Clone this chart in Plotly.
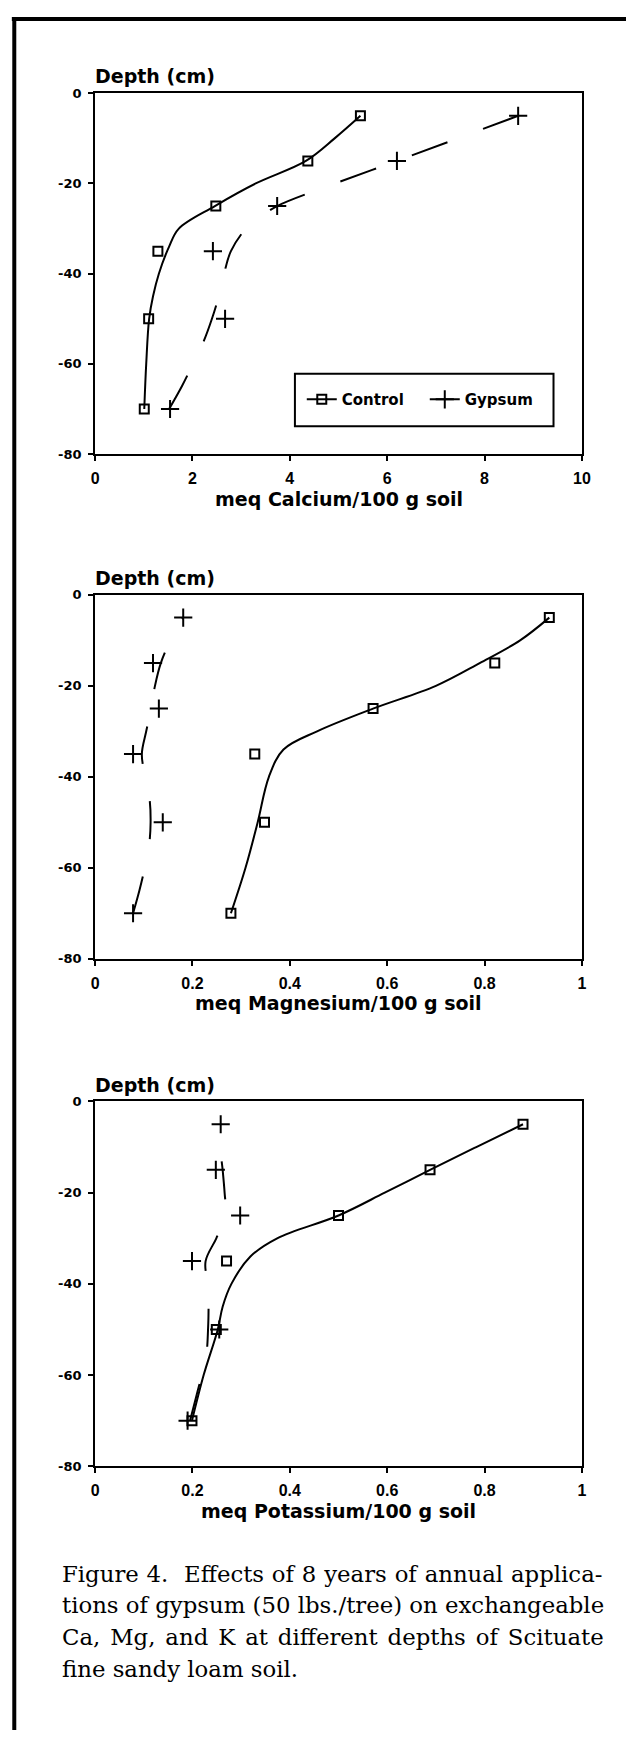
import plotly.graph_objects as go

W, H = 635, 1738

# ---- measured data: exchangeable cations by depth ----
depth = [-5, -15, -25, -35, -50, -70]

ca_control = [5.45, 4.37, 2.48, 1.29, 1.10, 1.01]
ca_gypsum = [8.69, 6.20, 3.74, 2.42, 2.67, 1.54]
mg_control = [0.933, 0.821, 0.571, 0.328, 0.348, 0.279]
mg_gypsum = [0.181, 0.119, 0.131, 0.078, 0.139, 0.078]
k_control = [0.879, 0.688, 0.500, 0.270, 0.249, 0.199]
k_gypsum = [0.258, 0.248, 0.298, 0.199, 0.255, 0.190]

# ---- smoothed depth profiles (deepest point first) ----
ca_control_fit_depth = [-70, -60, -50, -45, -40, -34, -30, -25, -20, -15, -10, -5]
ca_control_fit = [1.01, 1.05, 1.11, 1.19, 1.31, 1.52, 1.72, 2.46, 3.30, 4.33, 4.92, 5.45]
ca_gypsum_fit_depth = [-70, -65, -60, -55, -50, -45, -40, -35, -30, -27, -25, -20, -15, -10, -5]
ca_gypsum_fit = [1.52, 1.78, 2.01, 2.23, 2.40, 2.54, 2.65, 2.79, 3.10, 3.45, 3.74, 4.93, 6.20, 7.45, 8.69]

mg_control_fit_depth = [-70, -60, -50, -40, -34, -30, -25, -20, -15, -10, -5]
mg_control_fit = [0.279, 0.309, 0.334, 0.357, 0.387, 0.456, 0.571, 0.700, 0.790, 0.873, 0.933]
mg_gypsum_fit_depth = [-70, -65, -60, -55, -50, -45, -40, -35, -30, -25, -20, -15, -10, -5]
mg_gypsum_fit = [0.078, 0.091, 0.102, 0.111, 0.114, 0.112, 0.103, 0.096, 0.105, 0.115, 0.123, 0.135, 0.155, 0.181]

k_control_fit_depth = [-70, -60, -50, -45, -40, -34, -30, -25, -20, -15, -10, -5]
k_control_fit = [0.199, 0.223, 0.252, 0.262, 0.280, 0.319, 0.374, 0.500, 0.595, 0.688, 0.783, 0.879]
k_gypsum_fit_depth = [-70, -65, -60, -55, -50, -45, -40, -35, -30, -25, -20, -15, -10, -5]
k_gypsum_fit = [0.195, 0.207, 0.219, 0.229, 0.232, 0.233, 0.231, 0.227, 0.249, 0.268, 0.266, 0.262, 0.257, 0.258]

# ---- axis labels ----
ca_ticks = [0, 2, 4, 6, 8, 10]
ca_ticktext = ["0", "2", "4", "6", "8", "10"]
frac_ticks = [0, 0.2, 0.4, 0.6, 0.8, 1]
frac_ticktext = ["0", "0.2", "0.4", "0.6", "0.8", "1"]
depth_ticks = [0, -20, -40, -60, -80]
depth_ticktext = ["0", "-20", "-40", "-60", "-80"]

x_titles = ["meq Calcium/100 g soil", "meq Magnesium/100 g soil", "meq Potassium/100 g soil"]
y_title = "Depth (cm)"
series_names = ["Control", "Gypsum"]
caption_lines = [
    "Figure 4.  Effects of 8 years of annual applica-",
    "tions of gypsum (50 lbs./tree) on exchangeable",
    "Ca, Mg, and K at different depths of Scituate",
    "fine sandy loam soil.",
]
# extra word spacing per caption line (justified block)
caption_word_spacing = [0.6, 0, 2.7, 0]

# ---- page geometry (pixels) ----
PLOT_L, PLOT_R = 93, 590
PANELS = [(87, 451), (593, 960), (1104, 1472)]
CAPTION_X = 57
CAPTION_BASELINES = [1588, 1619, 1651, 1683]


def px(x):
    return x / W


def py(y):
    return 1 - y / H


SANS = "DejaVu Sans"
BLACK = "black"

panels = [
    dict(ctrl=ca_control, gyp=ca_gypsum, cfd=ca_control_fit_depth, cf=ca_control_fit,
         gfd=ca_gypsum_fit_depth, gf=ca_gypsum_fit, xr=[0, 10], tv=ca_ticks, tt=ca_ticktext),
    dict(ctrl=mg_control, gyp=mg_gypsum, cfd=mg_control_fit_depth, cf=mg_control_fit,
         gfd=mg_gypsum_fit_depth, gf=mg_gypsum_fit, xr=[0, 1], tv=frac_ticks, tt=frac_ticktext),
    dict(ctrl=k_control, gyp=k_gypsum, cfd=k_control_fit_depth, cf=k_control_fit,
         gfd=k_gypsum_fit_depth, gf=k_gypsum_fit, xr=[0, 1], tv=frac_ticks, tt=frac_ticktext),
]

square = dict(symbol="square-open", size=9, color=BLACK, line=dict(width=2, color=BLACK))
cross = dict(symbol="cross-thin-open", size=13, color=BLACK, line=dict(width=2, color=BLACK))

fig = go.Figure()
layout = {}
annotations = []

for i, p in enumerate(panels):
    n = "" if i == 0 else str(i + 1)
    xa, ya = "x" + n, "y" + n
    top, bot = PANELS[i]

    # smoothed profiles
    fig.add_trace(go.Scatter(x=p["cf"], y=p["cfd"], xaxis=xa, yaxis=ya, mode="lines",
                             line=dict(color=BLACK, width=2, shape="spline", smoothing=1),
                             showlegend=False, hoverinfo="skip"))
    fig.add_trace(go.Scatter(x=p["gf"], y=p["gfd"], xaxis=xa, yaxis=ya, mode="lines",
                             line=dict(color=BLACK, width=2, shape="spline", smoothing=1,
                                       dash="38px,38px"),
                             showlegend=False, hoverinfo="skip"))
    # observations
    fig.add_trace(go.Scatter(x=p["ctrl"], y=depth, xaxis=xa, yaxis=ya, mode="markers",
                             marker=square, showlegend=False, name=series_names[0]))
    fig.add_trace(go.Scatter(x=p["gyp"], y=depth, xaxis=xa, yaxis=ya, mode="markers",
                             marker=cross, showlegend=False, name=series_names[1]))

    layout["xaxis" + n] = dict(
        domain=[px(PLOT_L), px(PLOT_R)], anchor=ya, range=p["xr"],
        tickvals=p["tv"], ticktext=p["tt"],
        showline=True, linecolor=BLACK, linewidth=2, mirror=True,
        ticks="outside", ticklen=5, tickwidth=2, tickcolor=BLACK,
        showgrid=False, zeroline=False, fixedrange=True,
        tickfont=dict(family="Liberation Sans", size=16, color=BLACK, weight="bold"),
        ticklabelstandoff=4,
    )
    layout["yaxis" + n] = dict(
        domain=[py(bot), py(top)], anchor=xa, range=[-80, 0],
        tickvals=depth_ticks, ticktext=depth_ticktext,
        showline=True, linecolor=BLACK, linewidth=2, mirror=True,
        ticks="outside", ticklen=5, tickwidth=2, tickcolor=BLACK,
        showgrid=False, zeroline=False, fixedrange=True,
        tickfont=dict(family=SANS, size=13, color=BLACK, weight="bold"),
        ticklabelstandoff=4,
    )

    annotations.append(dict(
        text=y_title, xref="paper", yref="paper", x=px(PLOT_L - 2), y=py(top - 4),
        xanchor="left", yanchor="bottom", showarrow=False,
        font=dict(family=SANS, size=19, color=BLACK, weight="bold")))
    annotations.append(dict(
        text=x_titles[i], xref="paper", yref="paper",
        x=px((PLOT_L + PLOT_R) / 2), y=py(bot + 45),
        xanchor="center", yanchor="middle", showarrow=False,
        font=dict(family=SANS, size=19, color=BLACK, weight="bold")))

# legend entries
fig.add_trace(go.Scatter(x=[None], y=[None], mode="lines+markers", name=series_names[0],
                         line=dict(color=BLACK, width=2), marker=square))
fig.add_trace(go.Scatter(x=[None], y=[None], mode="lines+markers", name=series_names[1],
                         line=dict(color=BLACK, width=2), marker=cross))

# figure caption
for line, ws, base in zip(caption_lines, caption_word_spacing, CAPTION_BASELINES):
    text = line if ws == 0 else '<span style="word-spacing:%.1fpx">%s</span>' % (ws, line)
    annotations.append(dict(
        text=text, xref="paper", yref="paper", x=px(CAPTION_X), y=py(base - 7),
        xanchor="left", yanchor="middle", showarrow=False,
        font=dict(family="DejaVu Serif", size=22.8, color=BLACK)))

shapes = [
    # page frame
    dict(type="line", xref="paper", yref="paper", x0=px(8), x1=1, y0=py(12), y1=py(12),
         line=dict(color=BLACK, width=4)),
    dict(type="line", xref="paper", yref="paper", x0=px(10.5), x1=px(10.5), y0=py(10), y1=0,
         line=dict(color=BLACK, width=4)),
    # legend frame
    dict(type="rect", xref="paper", yref="paper", x0=px(297), x1=px(561), y0=py(423), y1=py(370),
         line=dict(color=BLACK, width=2), fillcolor="white", layer="below"),
]

fig.update_layout(
    width=W, height=H, margin=dict(l=0, r=0, t=0, b=0),
    paper_bgcolor="white", plot_bgcolor="white",
    showlegend=True,
    legend=dict(x=px(304), y=py(396), xanchor="left", yanchor="middle",
                orientation="h", bgcolor="rgba(0,0,0,0)", borderwidth=0,
                entrywidth=78, entrywidthmode="pixels",
                font=dict(family=SANS, size=15, color=BLACK, weight="bold")),
    annotations=annotations, shapes=shapes,
    **layout,
)

# the page body gets no default margin, so the figure fills the window exactly
fig.write_html("out.html", post_script="document.body.style.margin = '0';")
